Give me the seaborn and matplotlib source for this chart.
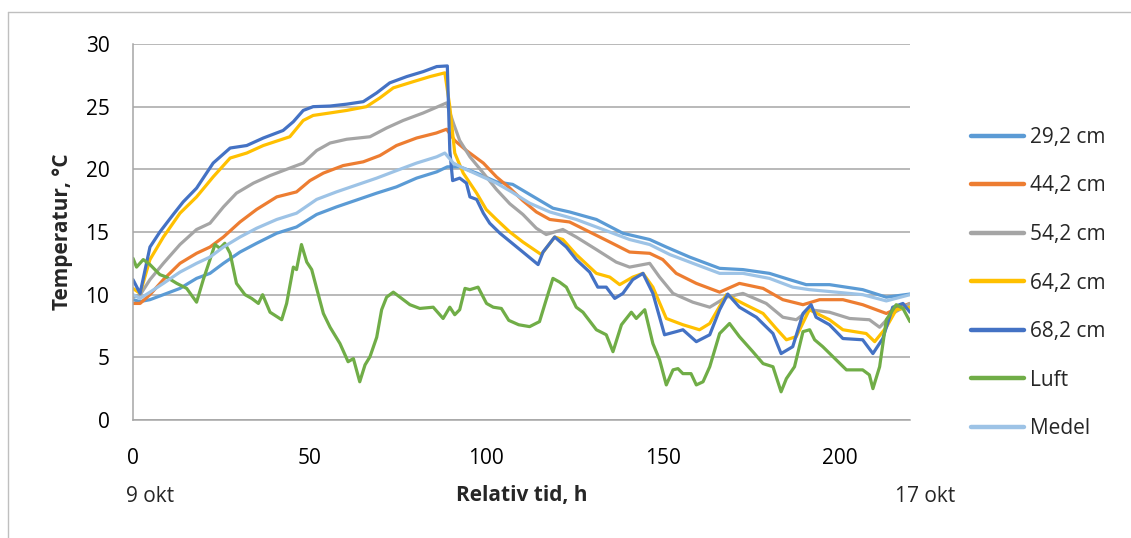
import matplotlib
matplotlib.use("Agg")
import matplotlib.pyplot as plt
import seaborn as sns
import pandas as pd
from matplotlib.lines import Line2D

# ---------------- data ----------------
series_names = ["29,2 cm", "44,2 cm", "54,2 cm", "64,2 cm", "68,2 cm", "Luft", "Medel"]

h_292 = [0, 2, 4.8, 8.6, 13.3, 18, 21.8, 25.6, 30.3, 35, 40.7, 46.3, 52, 57.6, 63.3, 69, 74.6, 80.3, 86, 89,
         92.5, 97.3, 102.9, 107.5, 112.3, 118.9, 123.6, 131.2, 138.7, 146.3, 151, 157.6, 166.1, 172.7, 180.2,
         185.9, 190.6, 197.2, 206.6, 213.3, 220]
t_292 = [9.6, 9.45, 9.6, 10.0, 10.5, 11.3, 11.7, 12.5, 13.4, 14.1, 14.9, 15.4, 16.4, 17.0, 17.55, 18.1, 18.6,
         19.3, 19.8, 20.2, 20.2, 19.7, 19.0, 18.8, 18.0, 16.9, 16.6, 16.0, 14.9, 14.4, 13.8, 13.0, 12.1, 12.0,
         11.7, 11.2, 10.8, 10.8, 10.4, 9.8, 10.05]

h_442 = [0, 2, 4.8, 8.6, 13.3, 18, 21.8, 25.6, 30.3, 35, 40.7, 46.3, 50.1, 53.9, 59.5, 65.2, 69.9, 74.6, 80.3,
         85.9, 88.8, 91.1, 94.4, 99.2, 102.9, 106.7, 110.4, 114.2, 118, 123.6, 129.3, 135, 140.6, 146.3, 150,
         153.8, 159.5, 166.1, 171.7, 178.4, 184, 189.7, 194.4, 201, 206.6, 213.3, 217, 220]
t_442 = [9.3, 9.3, 10.0, 11.2, 12.5, 13.3, 13.8, 14.6, 15.8, 16.8, 17.8, 18.2, 19.1, 19.7, 20.3, 20.6, 21.1,
         21.9, 22.5, 22.9, 23.2, 22.3, 21.5, 20.5, 19.4, 18.5, 17.5, 16.6, 16.0, 15.8, 15.0, 14.2, 13.4, 13.3,
         12.8, 11.7, 10.9, 10.2, 10.9, 10.5, 9.6, 9.2, 9.6, 9.6, 9.2, 8.5, 9.0, 9.3]

h_542 = [0, 2, 4.8, 8.6, 13.3, 18, 21.8, 25.6, 29.3, 34.1, 38.8, 44.4, 48.2, 52, 55.8, 60.5, 67.1, 71.8, 76.5,
         82.2, 88.8, 90.7, 92.5, 95.4, 99.2, 102.9, 106.7, 110.4, 114.2, 117, 121.7, 125.5, 131.2, 136.8,
         140.6, 146.3, 149.1, 152.9, 158.5, 163.3, 168, 172.7, 179.3, 184, 187.8, 191.5, 197.2, 202.9, 208.5,
         211.4, 215.1, 220]
t_542 = [9.8, 9.97, 11.2, 12.5, 14.0, 15.2, 15.7, 17.0, 18.1, 18.9, 19.5, 20.1, 20.5, 21.5, 22.1, 22.4, 22.6,
         23.3, 23.9, 24.5, 25.3, 23.7, 22.3, 21.0, 19.7, 18.4, 17.25, 16.4, 15.3, 14.8, 15.2, 14.6, 13.6, 12.6,
         12.2, 12.5, 11.4, 10.1, 9.4, 9.0, 9.8, 10.1, 9.3, 8.2, 8.0, 8.8, 8.6, 8.1, 8.0, 7.4, 8.5, 9.3]

h_642 = [0, 2, 4.8, 8.6, 13.3, 18, 22.7, 27.5, 32.2, 36.9, 44.4, 48.2, 51, 55.8, 60.5, 66.1, 69.9, 73.7, 79.4,
         84.1, 88.3, 89.7, 91.1, 93.5, 97.3, 100, 102.9, 106.7, 110.4, 115.6, 119.4, 121.7, 125.5, 131.2, 135,
         137.8, 141.5, 144.4, 147.2, 151, 155.7, 160.4, 163.3, 168, 172.7, 178.4, 182.1, 185, 187.8, 191.5,
         197.2, 201, 207.6, 210, 213.3, 216.1, 220]
t_642 = [10.5, 10.1, 12.8, 14.6, 16.5, 17.8, 19.4, 20.9, 21.3, 21.9, 22.6, 23.9, 24.3, 24.5, 24.7, 25.0, 25.7,
         26.5, 27.0, 27.4, 27.7, 25.0, 21.3, 19.7, 18.1, 16.8, 16.0, 15.0, 14.2, 13.2, 14.6, 14.4, 13.2, 11.7,
         11.4, 10.8, 11.4, 11.7, 10.6, 8.1, 7.6, 7.2, 7.7, 10.0, 9.3, 8.5, 7.3, 6.4, 6.65, 8.8, 8.0, 7.2, 6.9,
         6.25, 7.4, 8.8, 9.0]

h_682 = [0, 2, 4.8, 7.6, 11.4, 14.2, 18, 22.7, 27.5, 32.2, 36.9, 42.5, 45.4, 48.2, 51, 55.8, 60.5, 65.2, 69,
         72.7, 77.5, 82.2, 86, 89, 89.7, 90.5, 92.5, 94.4, 95.4, 97.3, 99.2, 101, 103.9, 106.5, 110.4, 114.7,
         116.1, 119.4, 122.7, 125.5, 129.3, 131.6, 134, 136.4, 138.7, 141.5, 144.4, 147.2, 150.5, 153.8,
         155.7, 159.5, 163.3, 166.1, 168.4, 171.7, 176.5, 181.2, 183.5, 186.8, 189.7, 192, 193.4, 197.2, 201,
         206.6, 209.5, 212.3, 215.1, 218, 220]
t_682 = [11.2, 10.1, 13.8, 15.0, 16.4, 17.4, 18.5, 20.5, 21.7, 21.9, 22.5, 23.1, 23.8, 24.7, 25.0, 25.05,
         25.2, 25.4, 26.1, 26.9, 27.4, 27.8, 28.2, 28.25, 21.5, 19.1, 19.3, 18.9, 17.8, 17.6, 16.5, 15.7, 14.9,
         14.3, 13.4, 12.4, 13.4, 14.6, 13.8, 12.8, 11.8, 10.6, 10.6, 9.7, 10.1, 11.2, 11.7, 10.1, 6.8, 7.05,
         7.2, 6.25, 6.8, 8.8, 10.05, 9.0, 8.2, 6.9, 5.3, 5.85, 8.5, 9.2, 8.2, 7.6, 6.5, 6.4, 5.3, 6.5, 9.0, 9.3,
         8.6]

h_luft = [0, 1.0, 2.9, 4.8, 7.6, 9.5, 12.4, 15.2, 18, 19.9, 21.8, 23.2, 24.6, 26, 27.5, 29.3, 31.7, 33.6,
          35.5, 36.7, 38.8, 42.1, 43.5, 45.4, 46.3, 47.7, 49.2, 50.6, 52, 53.9, 55.8, 58.6, 60.9, 62.4, 64.2,
          65.7, 67.1, 69, 70.4, 71.8, 73.7, 75.6, 78.4, 81.2, 85, 87.8, 89.7, 91.1, 92.5, 94, 95.4, 97.7, 100.1,
          102, 104.3, 106.4, 109.2, 112.3, 115.1, 117, 118.9, 120.8, 122.7, 125.5, 127.4, 131.2, 134, 135.9,
          138.3, 141.1, 142.5, 144.9, 147.2, 149.1, 151, 152.9, 154.3, 155.7, 158, 159.5, 161.4, 163.3, 166.1,
          168.9, 171.7, 175.5, 178.4, 181.2, 183.5, 185, 187.3, 189.7, 191.6, 193, 195.3, 199.1, 202, 206.6,
          208.5, 209.5, 211.4, 213.3, 216.1, 218, 220]
t_luft = [12.9, 12.2, 12.8, 12.4, 11.6, 11.4, 10.9, 10.5, 9.4, 11.2, 12.8, 14.0, 13.7, 14.1, 13.3, 10.9, 10.0,
          9.7, 9.3, 10.0, 8.6, 8.0, 9.3, 12.2, 12.0, 14.0, 12.6, 12.0, 10.5, 8.5, 7.4, 6.1, 4.65, 4.9, 3.05,
          4.4, 5.05, 6.6, 8.8, 9.8, 10.2, 9.8, 9.2, 8.9, 9.0, 8.1, 9.0, 8.4, 8.8, 10.5, 10.4, 10.6, 9.3, 9.0,
          8.9, 7.95, 7.6, 7.45, 7.85, 9.6, 11.3, 11.0, 10.6, 9.0, 8.6, 7.2, 6.8, 5.45, 7.6, 8.6, 8.1, 8.8, 6.1,
          4.8, 2.8, 4.0, 4.1, 3.7, 3.7, 2.8, 3.05, 4.25, 6.9, 7.7, 6.65, 5.45, 4.5, 4.25, 2.25, 3.3, 4.25,
          7.05, 7.2, 6.4, 5.85, 4.8, 4.0, 4.0, 3.6, 2.5, 4.25, 8.0, 9.2, 8.9, 7.85]

h_medel = [0, 2, 4.8, 8.6, 13.3, 18, 21.8, 25.6, 30.3, 35, 40.7, 46.3, 52, 57.6, 63.3, 69, 74.6, 80.3, 86,
           88.3, 90.7, 93.5, 98.2, 102.9, 107.2, 112.3, 118, 125.5, 133.1, 140.6, 146.3, 152, 159.5, 166.1,
           172.7, 180.2, 186.8, 191.5, 199.1, 206.6, 213.3, 220]
t_medel = [10.0, 9.7, 10.2, 10.9, 11.8, 12.5, 13.0, 13.8, 14.6, 15.3, 16.0, 16.5, 17.6, 18.2, 18.75, 19.3,
           19.9, 20.5, 21.0, 21.3, 20.5, 20.1, 19.5, 18.9, 18.2, 17.3, 16.6, 16.0, 15.2, 14.4, 14.0, 13.2, 12.4,
           11.7, 11.7, 11.3, 10.6, 10.4, 10.2, 10.0, 9.5, 10.0]

x_ticks = [0, 50, 100, 150, 200]
y_ticks = [0, 5, 10, 15, 20, 25, 30]
date_labels = ["9 okt", "17 okt"]
colors = ["#5B9BD5", "#ED7D31", "#A5A5A5", "#FFC000", "#4472C4", "#70AD47", "#9DC3E6"]

# ---------------- build long table ----------------
xs = [h_292, h_442, h_542, h_642, h_682, h_luft, h_medel]
ys = [t_292, t_442, t_542, t_642, t_682, t_luft, t_medel]
frames = []
for name, x, y in zip(series_names, xs, ys):
    frames.append(pd.DataFrame({"h": x, "T": y, "serie": name}))
df = pd.concat(frames, ignore_index=True)
palette = dict(zip(series_names, colors))

# ---------------- plot ----------------
sns.set_theme(style="white")
plt.rcParams["font.family"] = ["Open Sans", "DejaVu Sans"]
FS = 15

W, H = 1131, 538
fig = plt.figure(figsize=(W / 100, H / 100), dpi=100)
ax = fig.add_axes([133 / W, 1 - 420 / H, (910 - 133) / W, (420 - 44) / H])

sns.lineplot(data=df, x="h", y="T", hue="serie", palette=palette, hue_order=series_names,
             sort=False, estimator=None, linewidth=2.3, ax=ax, legend=False)

ax.set_xlim(0, 220)
ax.set_ylim(0, 30)
ax.set_xticks(x_ticks)
ax.set_yticks(y_ticks)
ax.tick_params(axis="both", length=0, labelsize=FS, colors="#000000")
ax.tick_params(axis="y", pad=17)
ax.tick_params(axis="x", pad=20)
ax.grid(axis="y", color="#A6A6A6", linewidth=1.1)
ax.grid(axis="x", visible=False)
for s in ["top", "right"]:
    ax.spines[s].set_visible(False)
for s in ["left", "bottom"]:
    ax.spines[s].set_color("#A6A6A6")
    ax.spines[s].set_linewidth(1.1)

ax.set_ylabel("Temperatur, °C", fontsize=FS, fontweight="bold", labelpad=9)
ax.set_xlabel("Relativ tid, h", fontsize=FS, fontweight="bold", labelpad=12)

fig.text(150 / W, 1 - 496 / H, date_labels[0], fontsize=FS, ha="center", va="center")
fig.text(925 / W, 1 - 496 / H, date_labels[1], fontsize=FS, ha="center", va="center")

handles = [Line2D([0], [0], color=c, linewidth=3.2) for c in colors]
fig.legend(handles, series_names, loc="upper left", bbox_to_anchor=(971 / W, 1 - 127 / H),
           frameon=False, fontsize=FS, handlelength=2.55, handletextpad=0.3,
           labelspacing=1.32, borderpad=0, borderaxespad=0)

# chart-area border
fig.add_artist(Line2D([8 / W, 8 / W], [0, 1 - 12 / H], transform=fig.transFigure,
                      color="#BFBFBF", linewidth=1.0))
fig.add_artist(Line2D([8 / W, 1], [1 - 12 / H, 1 - 12 / H], transform=fig.transFigure,
                      color="#BFBFBF", linewidth=1.0))

fig.savefig("out.png", dpi=100)
